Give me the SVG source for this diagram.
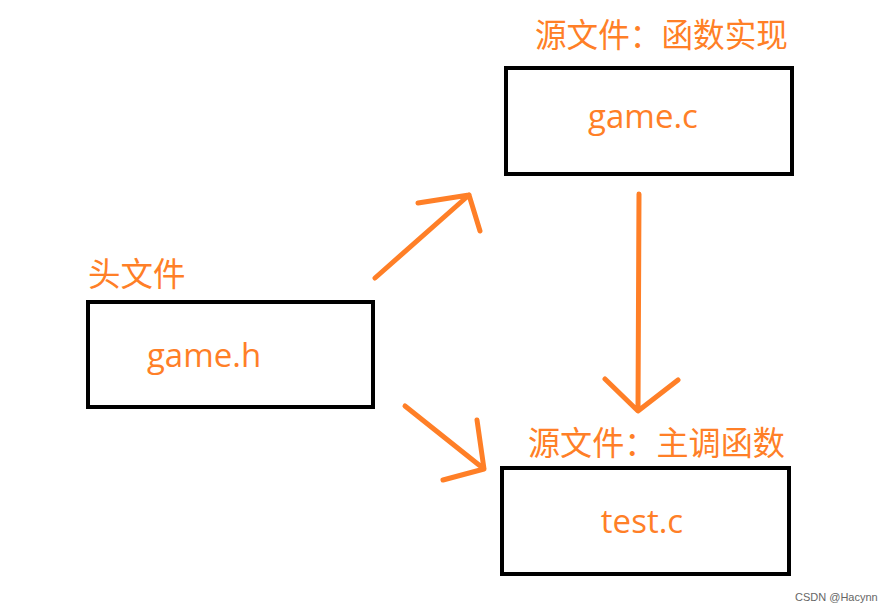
<svg xmlns="http://www.w3.org/2000/svg" width="890" height="613" viewBox="0 0 890 613">
<style>
.box{fill:none;stroke:#000;stroke-width:4}
.lbl{font-family:"Noto Sans CJK SC","Microsoft YaHei",sans-serif;font-size:32.5px;fill:#FF7F27}
.name{font-family:"Open Sans","Noto Sans",sans-serif;font-size:33px;fill:#FF7F27}
.arr{fill:none;stroke:#FF7F27;stroke-width:5;stroke-linecap:round;stroke-linejoin:round}
</style>
<rect width="890" height="613" fill="#fff"/>
<g id="gamec">
<rect class="box" x="506" y="68" width="286" height="106"/>
<text class="lbl" x="535" y="47" textLength="253" lengthAdjust="spacingAndGlyphs">源文件：函数实现</text>
<text class="name" x="643" y="128" text-anchor="middle">game.c</text>
</g>
<g id="gameh">
<rect class="box" x="88" y="302" width="285" height="105"/>
<text class="lbl" x="88" y="286">头文件</text>
<text class="name" x="204" y="367" text-anchor="middle">game.h</text>
</g>
<g id="testc">
<rect class="box" x="502" y="468" width="287" height="106"/>
<text class="lbl" x="528" y="455" textLength="257" lengthAdjust="spacingAndGlyphs">源文件：主调函数</text>
<text class="name" x="642" y="533" text-anchor="middle">test.c</text>
</g>
<g id="connectors">
<path class="arr" d="M375,278 L469,195 M418,203 L469,195 L480,231"/>
<path class="arr" d="M405,406 L484,469 M477,420 L484,469 L443,480"/>
<path class="arr" d="M639,194 L638,411 M605,379 L638,411 L678,380"/>
</g>
<text x="795" y="601" font-family="Liberation Sans,sans-serif" font-size="11" fill="#666">CSDN @Hacynn</text>
</svg>
